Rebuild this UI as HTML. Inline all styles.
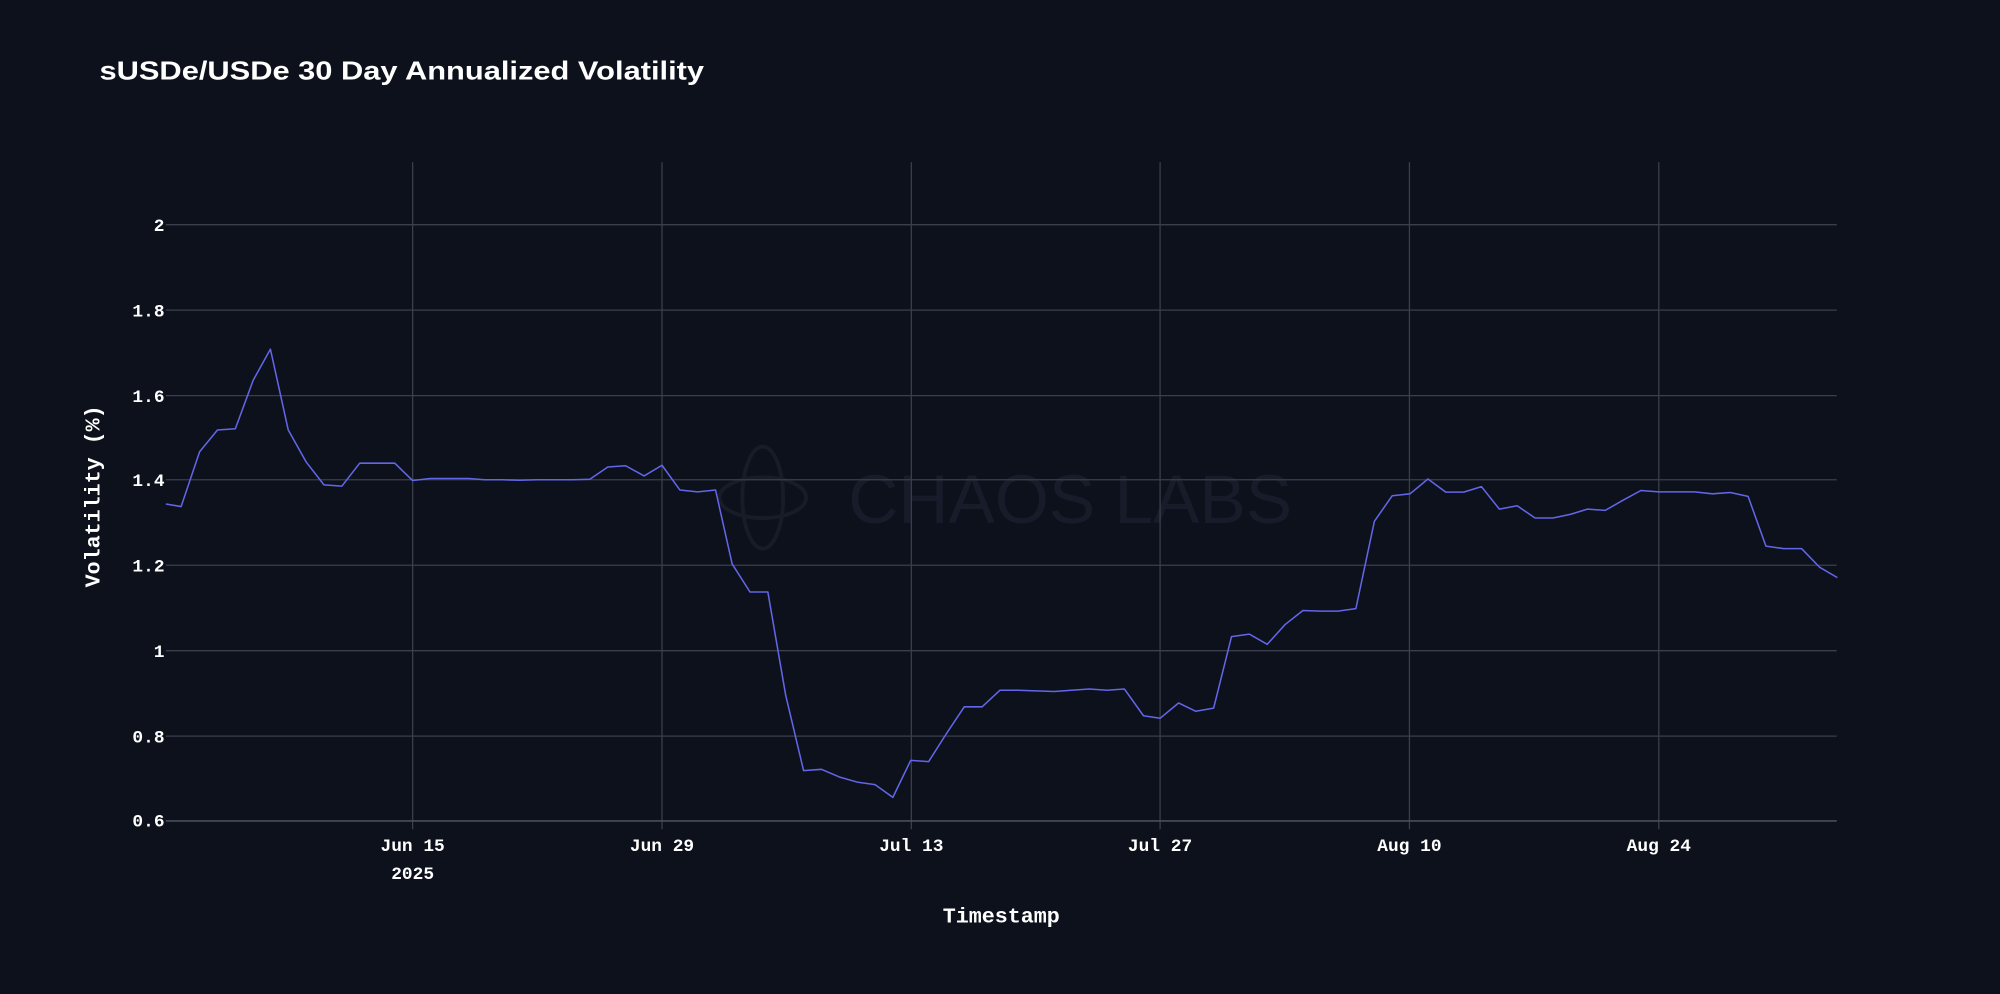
<!DOCTYPE html>
<html><head><meta charset="utf-8"><style>
html,body{margin:0;padding:0;background:#0d111c;}
svg{display:block}
text{font-family:"Liberation Mono",monospace;fill:#ffffff}
</style></head><body>
<svg width="2000" height="994" viewBox="0 0 1568 779" xmlns="http://www.w3.org/2000/svg">
<rect width="1568" height="779" fill="#0d111c"/>
<text x="78" y="62" style="font-family:'Liberation Sans',sans-serif;font-weight:bold;font-size:20px" textLength="474" lengthAdjust="spacingAndGlyphs">sUSDe/USDe 30 Day Annualized Volatility</text>
<g opacity="0.06" stroke="#c8ccd8" fill="none" stroke-width="3">
<ellipse cx="598" cy="390" rx="16" ry="40"/>
<ellipse cx="598" cy="390" rx="34" ry="16"/>
</g>
<text x="665" y="410" style="font-family:'Liberation Sans',sans-serif;font-size:54px;fill:#181c2a" textLength="348" lengthAdjust="spacingAndGlyphs">CHAOS LABS</text>
<g stroke="#3b3f4b" stroke-width="1">
<line x1="130" x2="1440" y1="176" y2="176"/>
<line x1="130" x2="1440" y1="243" y2="243"/>
<line x1="130" x2="1440" y1="310" y2="310"/>
<line x1="130" x2="1440" y1="376" y2="376"/>
<line x1="130" x2="1440" y1="443" y2="443"/>
<line x1="130" x2="1440" y1="510" y2="510"/>
<line x1="130" x2="1440" y1="577" y2="577"/>
<line x1="323.5" x2="323.5" y1="127" y2="650"/>
<line x1="519" x2="519" y1="127" y2="650"/>
<line x1="714.5" x2="714.5" y1="127" y2="650"/>
<line x1="909.5" x2="909.5" y1="127" y2="650"/>
<line x1="1105" x2="1105" y1="127" y2="650"/>
<line x1="1300.5" x2="1300.5" y1="127" y2="650"/>
</g>
<line x1="130" x2="1440" y1="643.5" y2="643.5" stroke="#4a4e5a" stroke-width="1.3"/>
<g font-size="14" text-anchor="end" font-weight="bold">
<text x="129" y="181">2</text>
<text x="129" y="248">1.8</text>
<text x="129" y="315">1.6</text>
<text x="129" y="381">1.4</text>
<text x="129" y="448">1.2</text>
<text x="129" y="515">1</text>
<text x="129" y="582">0.8</text>
<text x="129" y="648">0.6</text>
</g>
<g font-size="14" text-anchor="middle" font-weight="bold">
<text x="323.5" y="667">Jun 15</text>
<text x="323.5" y="689">2025</text>
<text x="519" y="667">Jun 29</text>
<text x="714.5" y="667">Jul 13</text>
<text x="909.5" y="667">Jul 27</text>
<text x="1105" y="667">Aug 10</text>
<text x="1300.5" y="667">Aug 24</text>
</g>
<text x="785" y="723" font-size="17" font-weight="bold" text-anchor="middle">Timestamp</text>
<text transform="translate(78,389) rotate(-90)" font-size="17" font-weight="bold" text-anchor="middle">Volatility (%)</text>
<polyline fill="none" stroke="#6266e8" stroke-width="1.2" stroke-linejoin="round" points="
130,395 142,397 156.5,354 170.5,337 184.5,336 198.5,298 212,273.6 226,337 240,362 254,380 268,381 282,363 296,363 309.5,363 323.5,376.6 337.5,375 352,375 367.5,375 380,376 394,376 407.5,376.4 421,376 435,376 449,376 462.5,375.6 476.5,366 490.5,365 505,373 519,364.6 533,384 547,385.5 561,384 574,442 588,464 602,464 616,545 630,604 644,603 658,609 672,613 686,615 700,625 714,596 728,597 742,575 756,554 770,554 784,541 798,541 812,541.5 826.5,542 840,541 854,540 868,541 881.5,540 896.5,561 909.5,563 924,551 937.5,557.5 951.5,555 965.5,499 979.5,497 993.5,505 1007.5,489.5 1021.5,478.5 1035,479 1049,479 1063,477 1077.5,408.6 1091.5,388.5 1105.5,387 1119.5,375.4 1133.5,385.7 1147.5,385.7 1161.5,381.4 1175.5,399 1189.5,396.4 1203.5,406 1217.5,406 1231.5,403 1244.5,399 1258.5,400 1272.5,392 1286.5,384.4 1300.5,385.5 1314.5,385.5 1328.5,385.5 1342.5,387 1356.5,386 1370.5,389 1384.5,428 1398.5,430 1412.5,430 1426.5,444.5 1440.5,452.7"/>
</svg>
</body></html>
